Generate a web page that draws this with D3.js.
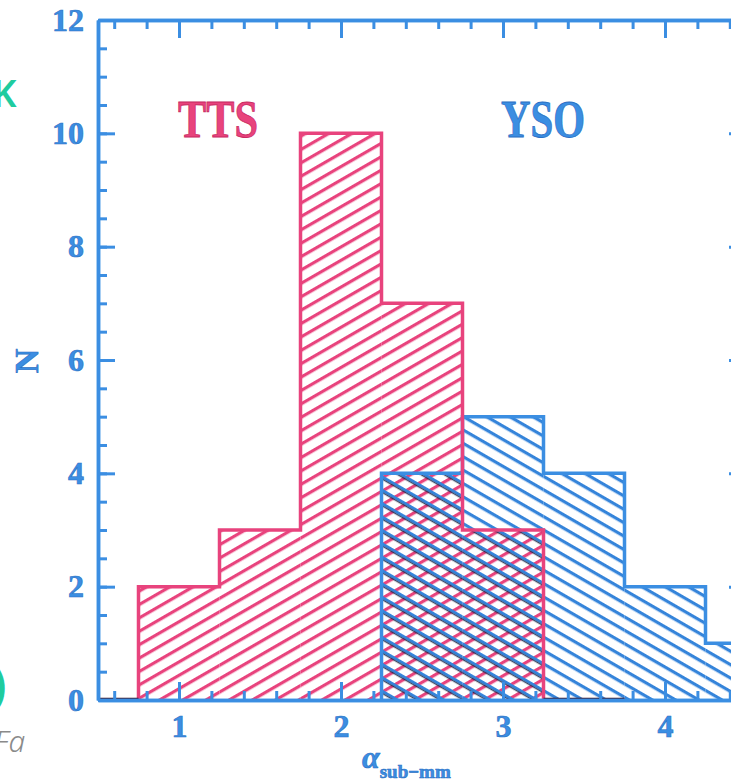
<!DOCTYPE html>
<html>
<head>
<meta charset="utf-8">
<script src="https://cdn.jsdelivr.net/npm/d3@7"></script>
<style>
  body { margin: 0; background: #fff; }
  svg { display: block; }
</style>
</head>
<body>
<svg width="731" height="784"></svg>
<script>
// histogram data (bins 0.5 wide, given by their left edge)
const binStarts = [0.25, 0.75, 1.25, 1.75, 2.25, 2.75, 3.25, 3.75, 4.25];
const ttsCounts = [0, 2, 3, 10, 7, 3, 0, null, null];
const ysoCounts = [null, null, null, null, 4, 5, 4, 2, 1];
const binWidth = 0.5;

const xMajorTicks = [1, 2, 3, 4];
const xMinorTicks = d3.range(0.6, 4.5, 0.2).map((d) => +d.toFixed(1));
const yMajorTicks = [0, 2, 4, 6, 8, 10, 12];
const yMinorTicks = d3.range(0, 12.01, 0.5);

const pink = "#e8437d";
const blue = "#3b8ee2";

const svg = d3.select("svg");
const plotLeft = 98, plotTop = 20, plotRight = 746, plotBottom = 700;

const x = d3.scaleLinear().domain([0.5, 4.5]).range([plotLeft, plotRight]);
const y = d3.scaleLinear().domain([0, 12]).range([plotBottom, plotTop]);

// hatch patterns
const defs = svg.append("defs");
function hatch(id, color, angle, width, offset) {
  const p = defs.append("pattern")
    .attr("id", id)
    .attr("patternUnits", "userSpaceOnUse")
    .attr("width", 20)
    .attr("height", 11.6)
    .attr("patternTransform", `rotate(${angle})`);
  p.append("rect")
    .attr("x", 0).attr("y", offset)
    .attr("width", 20).attr("height", width)
    .attr("fill", color);
}
hatch("hTTS", pink, -30, 3.2, 0);
hatch("hYSO", "#3584da", 30, 3.2, 0);
hatch("hDark", "#1d2440", 30, 1.3, 2.8);

const bins = (counts) =>
  binStarts.map((s, i) => ({ x0: s, x1: s + binWidth, n: counts[i] }))
    .filter((d) => d.n !== null);

const tts = bins(ttsCounts);
const yso = bins(ysoCounts);

const clip = defs.append("clipPath").attr("id", "plotClip");
clip.append("rect").attr("x", plotLeft).attr("y", plotTop - 5)
  .attr("width", plotRight - plotLeft).attr("height", plotBottom - plotTop + 10);

const plot = svg.append("g").attr("clip-path", "url(#plotClip)");

// fills
plot.selectAll("rect.tts").data(tts.filter((d) => d.n > 0)).enter()
  .append("rect").attr("class", "tts")
  .attr("x", (d) => x(d.x0)).attr("width", (d) => x(d.x1) - x(d.x0))
  .attr("y", (d) => y(d.n)).attr("height", (d) => y(0) - y(d.n))
  .attr("fill", "url(#hTTS)");

plot.selectAll("rect.yso").data(yso).enter()
  .append("rect").attr("class", "yso")
  .attr("x", (d) => x(d.x0)).attr("width", (d) => x(d.x1) - x(d.x0))
  .attr("y", (d) => y(d.n)).attr("height", (d) => y(0) - y(d.n))
  .attr("fill", "url(#hYSO)");

// overlap gets darker cross lines
const overlap = binStarts.map((s, i) => ({
  x0: s, x1: s + binWidth,
  n: ttsCounts[i] !== null && ysoCounts[i] !== null ? Math.min(ttsCounts[i], ysoCounts[i]) : 0
})).filter((d) => d.n > 0);
plot.selectAll("rect.ov").data(overlap).enter()
  .append("rect").attr("class", "ov")
  .attr("x", (d) => x(d.x0)).attr("width", (d) => x(d.x1) - x(d.x0))
  .attr("y", (d) => y(d.n)).attr("height", (d) => y(0) - y(d.n))
  .attr("fill", "url(#hDark)").attr("opacity", 0.8);

// step outlines
function stepPath(data) {
  const pts = [[data[0].x0, 0]];
  data.forEach((d) => { pts.push([d.x0, d.n]); pts.push([d.x1, d.n]); });
  pts.push([data[data.length - 1].x1, 0]);
  return d3.line().x((p) => x(p[0])).y((p) => y(p[1]))(pts);
}
plot.append("path").attr("d", stepPath(yso))
  .attr("fill", "none").attr("stroke", blue).attr("stroke-width", 3.5);
plot.append("path").attr("d", stepPath(tts))
  .attr("fill", "none").attr("stroke", pink).attr("stroke-width", 3.5);

// zero bins of TTS show as a dark line on the baseline
plot.selectAll("line.zero").data(tts.filter((d) => d.n === 0)).enter()
  .append("line").attr("class", "zero")
  .attr("x1", (d) => x(d.x0)).attr("x2", (d) => x(d.x1))
  .attr("y1", y(0) - 1).attr("y2", y(0) - 1)
  .attr("stroke", "#3a1226").attr("stroke-width", 2.5);

// axes
function styleAxis(g) {
  g.selectAll("path.domain").attr("stroke", blue).attr("stroke-width", 3.5);
  g.selectAll(".tick line").attr("stroke", blue).attr("stroke-width", 3);
  g.selectAll(".tick text")
    .attr("fill", blue).attr("stroke", "#2b6fc4").attr("stroke-width", 0.6)
    .style("font-family", "'Liberation Serif', serif")
    .style("font-weight", "bold").style("font-size", "32px");
}
const fmt = d3.format("d");

svg.append("g").attr("transform", `translate(0,${plotBottom})`)
  .call(d3.axisBottom(x).tickValues(xMinorTicks).tickSize(-9).tickSizeOuter(0).tickFormat(""))
  .call(styleAxis);
svg.append("g").attr("transform", `translate(0,${plotBottom})`)
  .call(d3.axisBottom(x).tickValues(xMajorTicks).tickSize(-18).tickSizeOuter(0)
    .tickPadding(14).tickFormat(fmt))
  .call(styleAxis);
svg.append("g").attr("transform", `translate(0,${plotTop})`)
  .call(d3.axisTop(x).tickValues(xMinorTicks).tickSize(-9).tickSizeOuter(0).tickFormat(""))
  .call(styleAxis);
svg.append("g").attr("transform", `translate(0,${plotTop})`)
  .call(d3.axisTop(x).tickValues(xMajorTicks).tickSize(-18).tickSizeOuter(0).tickFormat(""))
  .call(styleAxis);
svg.append("g").attr("transform", `translate(${plotLeft},0)`)
  .call(d3.axisLeft(y).tickValues(yMinorTicks).tickSize(-9).tickSizeOuter(0).tickFormat(""))
  .call(styleAxis);
svg.append("g").attr("transform", `translate(${plotLeft},0)`)
  .call(d3.axisLeft(y).tickValues(yMajorTicks).tickSize(-17).tickSizeOuter(0)
    .tickPadding(14).tickFormat(fmt))
  .call(styleAxis);
svg.append("g").attr("transform", `translate(${plotRight},0)`)
  .call(d3.axisRight(y).tickValues(yMajorTicks).tickSize(-17).tickSizeOuter(0).tickFormat(""))
  .call(styleAxis);

// axis titles
svg.append("text")
  .attr("transform", "translate(38,361) rotate(-90)")
  .attr("text-anchor", "middle")
  .style("font-family", "'Liberation Serif', serif").style("font-weight", "bold")
  .style("font-size", "34px")
  .attr("fill", blue).attr("stroke", "#2b6fc4").attr("stroke-width", 0.6)
  .text("N");

const xt = svg.append("text").attr("x", 362).attr("y", 768)
  .attr("fill", blue).attr("stroke", "#2b6fc4").attr("stroke-width", 0.6)
  .style("font-family", "'Liberation Serif', serif");
xt.append("tspan").style("font-style", "italic").style("font-weight", "bold")
  .style("font-size", "32px").text("α");
xt.append("tspan").attr("dy", 10).style("font-weight", "bold")
  .style("font-size", "19px").text("sub−mm");

// labels inside the plot
svg.append("text").attr("x", 218).attr("y", 137).attr("text-anchor", "middle")
  .attr("textLength", 80).attr("lengthAdjust", "spacingAndGlyphs")
  .style("font-family", "'Liberation Serif', serif").style("font-weight", "bold")
  .style("font-size", "52px")
  .attr("fill", pink).attr("stroke", "#c92a62").attr("stroke-width", 0.8)
  .text("TTS");
svg.append("text").attr("x", 543).attr("y", 137).attr("text-anchor", "middle")
  .attr("textLength", 84).attr("lengthAdjust", "spacingAndGlyphs")
  .style("font-family", "'Liberation Serif', serif").style("font-weight", "bold")
  .style("font-size", "52px")
  .attr("fill", blue).attr("stroke", "#2b6fc4").attr("stroke-width", 0.8)
  .text("YSO");

// cropped bits of the surrounding page, cut by the left edge as in the source
svg.append("text").attr("x", -8).attr("y", 107)
  .style("font-family", "'Noto Sans', sans-serif").style("font-size", "38px")
  .style("font-weight", 600)
  .attr("fill", "#1fcc9f").text("K");
svg.append("text").attr("x", -9).attr("y", 702)
  .style("font-family", "'Noto Sans', sans-serif").style("font-size", "48px")
  .style("font-weight", 600)
  .attr("fill", "#1fcc9f").text(")");
svg.append("text").attr("x", -6).attr("y", 752)
  .style("font-family", "'Noto Sans', sans-serif").style("font-size", "30px")
  .style("font-style", "italic").style("font-weight", 300)
  .attr("fill", "#8a8a8a").text("Fa");
</script>
</body>
</html>
